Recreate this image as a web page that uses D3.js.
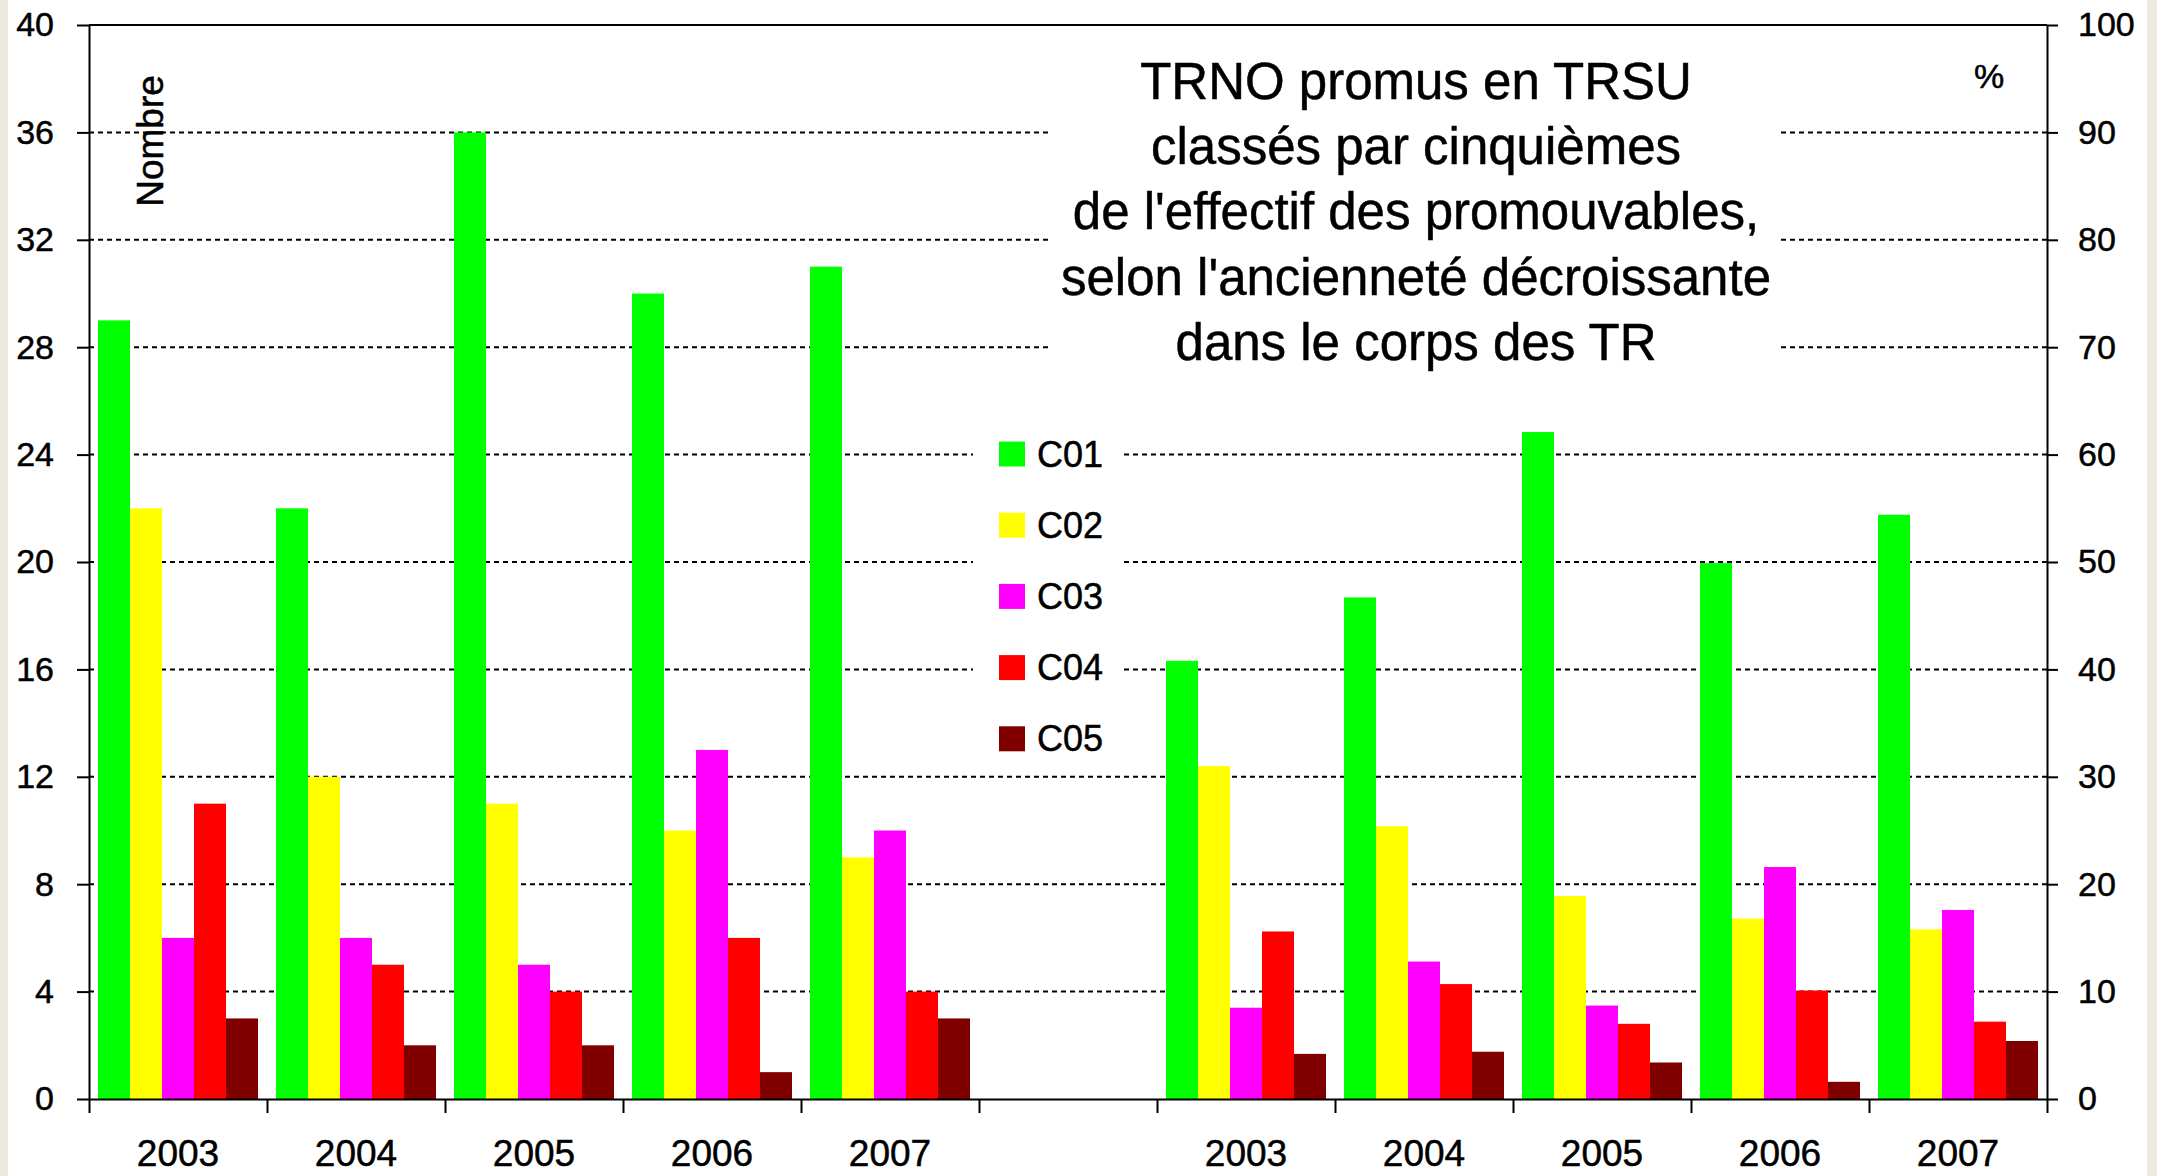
<!DOCTYPE html>
<html>
<head>
<meta charset="utf-8">
<script src="https://cdn.jsdelivr.net/npm/d3@7"></script>
<style>
  body { margin: 0; background: #ece9df; }
  svg text { font-family: "Liberation Sans", Arial, sans-serif; fill: #000; stroke: #000; stroke-width: 0.5px; }
</style>
</head>
<body>
<svg id="chart"></svg>
<script>
// Data
const years = ["2003", "2004", "2005", "2006", "2007"];
const seriesNames = ["C01", "C02", "C03", "C04", "C05"];
const seriesColors = ["#00ff00", "#ffff00", "#ff00ff", "#ff0000", "#800000"];

// Nombre (left axis)
const nbC01 = [29, 22, 36, 30, 31];
const nbC02 = [22, 12, 11, 10, 9];
const nbC03 = [6, 6, 5, 13, 10];
const nbC04 = [11, 5, 4, 6, 4];
const nbC05 = [3, 2, 2, 1, 3];

// % (right axis)
const pcC01 = [40.8, 46.7, 62.1, 49.9, 54.4];
const pcC02 = [31.0, 25.4, 18.9, 16.8, 15.8];
const pcC03 = [8.5, 12.8, 8.7, 21.6, 17.6];
const pcC04 = [15.6, 10.7, 7.0, 10.1, 7.2];
const pcC05 = [4.2, 4.4, 3.4, 1.6, 5.4];

const leftTicks = [0, 4, 8, 12, 16, 20, 24, 28, 32, 36, 40];
const rightTicks = [0, 10, 20, 30, 40, 50, 60, 70, 80, 90, 100];

const titleLines = [
    "TRNO promus en TRSU",
    "classés par cinquièmes",
    "de l'effectif des promouvables,",
    "selon l'ancienneté décroissante",
    "dans le corps des TR"
];

const nbSeries = [nbC01, nbC02, nbC03, nbC04, nbC05];
const pcSeries = [pcC01, pcC02, pcC03, pcC04, pcC05];

// Layout
const W = 2157, H = 1176;
const plot = { left: 89, right: 2047, top: 25, bottom: 1099 };

const svg = d3.select("#chart").attr("width", W).attr("height", H);

// white page area with beige frame on the sides
svg.append("rect").attr("x", 8).attr("y", 0).attr("width", 2139).attr("height", H).attr("fill", "#fff");

// 11 slots: 5 groups (Nombre), empty slot, 5 groups (%)
const slotLabels = years.concat([""], years);
const xSlot = d3.scaleBand().domain(d3.range(11)).range([plot.left, plot.right]);
const xEdge = d3.scaleLinear().domain([0, 11]).range([plot.left, plot.right]);
const xBar = d3.scaleBand().domain(seriesNames).range([9, 169]);

const yLeft = d3.scaleLinear().domain([0, 40]).range([plot.bottom, plot.top]);
const yRight = d3.scaleLinear().domain([0, 100]).range([plot.bottom, plot.top]);

// Dashed gridlines
svg.append("g")
    .selectAll("line")
    .data(leftTicks.filter(d => d > 0 && d < 40))
    .enter().append("line")
    .attr("x1", plot.left).attr("x2", plot.right)
    .attr("y1", d => yLeft(d)).attr("y2", d => yLeft(d))
    .attr("stroke", "#000")
    .attr("stroke-width", 2)
    .attr("stroke-dasharray", "5,4");

// Build bar records
const bars = [];
years.forEach((yr, i) => {
    seriesNames.forEach((s, j) => {
        bars.push({ slot: i, series: s, color: seriesColors[j], y: yLeft(nbSeries[j][i]) });
        bars.push({ slot: i + 6, series: s, color: seriesColors[j], y: yRight(pcSeries[j][i]) });
    });
});

svg.append("g")
    .selectAll("rect")
    .data(bars)
    .enter().append("rect")
    .attr("x", d => xSlot(d.slot) + xBar(d.series))
    .attr("y", d => d.y)
    .attr("width", xBar.bandwidth())
    .attr("height", d => plot.bottom - d.y)
    .attr("fill", d => d.color);

// Title with white background
svg.append("rect")
    .attr("x", 1052).attr("y", 45).attr("width", 729).attr("height", 330)
    .attr("fill", "#fff");
svg.append("g")
    .selectAll("text")
    .data(titleLines)
    .enter().append("text")
    .attr("x", 1416)
    .attr("y", (d, i) => 99 + i * 65.2)
    .attr("text-anchor", "middle")
    .style("font-size", "51px")
    .text(d => d);

// Legend with white background
svg.append("rect")
    .attr("x", 973).attr("y", 420).attr("width", 149).attr("height", 350)
    .attr("fill", "#fff");
const legend = svg.append("g")
    .selectAll("g")
    .data(seriesNames)
    .enter().append("g")
    .attr("transform", (d, i) => `translate(999,${454 + i * 71.2})`);
legend.append("rect")
    .attr("x", 0).attr("y", -12.5).attr("width", 26).attr("height", 25)
    .attr("fill", (d, i) => seriesColors[i]);
legend.append("text")
    .attr("x", 38).attr("y", 0)
    .attr("dominant-baseline", "central")
    .style("font-size", "36px")
    .text(d => d);

// Left axis
const axL = svg.append("g")
    .attr("transform", `translate(${plot.left},0)`)
    .call(d3.axisLeft(yLeft).tickValues(leftTicks).tickSize(12).tickSizeOuter(0).tickPadding(23));
// Right axis
const axR = svg.append("g")
    .attr("transform", `translate(${plot.right},0)`)
    .call(d3.axisRight(yRight).tickValues(rightTicks).tickSize(11).tickSizeOuter(0).tickPadding(20));

[axL, axR].forEach(g => {
    g.select(".domain").attr("stroke", "#000").attr("stroke-width", 2);
    g.selectAll(".tick line").attr("stroke", "#000").attr("stroke-width", 2);
    g.selectAll(".tick text").style("font-size", "34px").attr("fill", "#000")
        .style("font-family", "'Liberation Sans', Arial, sans-serif");
});

// Top border
svg.append("line")
    .attr("x1", plot.left).attr("x2", plot.right)
    .attr("y1", plot.top).attr("y2", plot.top)
    .attr("stroke", "#000").attr("stroke-width", 2);

// Bottom axis: boundary ticks
const axB = svg.append("g")
    .attr("transform", `translate(0,${plot.bottom})`)
    .call(d3.axisBottom(xEdge).tickValues(d3.range(12)).tickSize(14).tickSizeOuter(0).tickFormat(""));
axB.select(".domain").attr("stroke", "#000").attr("stroke-width", 2);
axB.selectAll(".tick line").attr("stroke", "#000").attr("stroke-width", 2);

// Bottom axis: year labels
const axLab = svg.append("g")
    .attr("transform", `translate(0,${plot.bottom})`)
    .call(d3.axisBottom(xSlot).tickSize(0).tickPadding(41).tickFormat(i => slotLabels[i]));
axLab.select(".domain").remove();
axLab.selectAll(".tick text").style("font-size", "37px").attr("fill", "#000")
    .style("font-family", "'Liberation Sans', Arial, sans-serif");

// Axis titles
svg.append("text")
    .attr("transform", "translate(163,141) rotate(-90)")
    .attr("text-anchor", "middle")
    .style("font-size", "37px")
    .text("Nombre");

svg.append("text")
    .attr("x", 1989).attr("y", 88)
    .attr("text-anchor", "middle")
    .style("font-size", "34px")
    .text("%");
</script>
</body>
</html>
